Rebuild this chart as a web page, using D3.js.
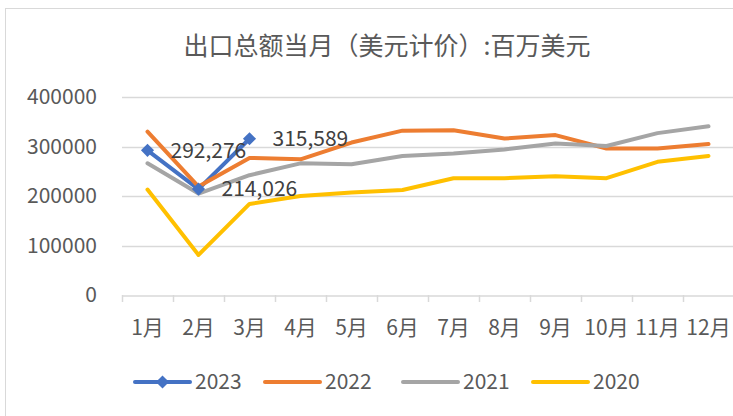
<!DOCTYPE html>
<html>
<head>
<meta charset="utf-8">
<script src="https://cdn.jsdelivr.net/npm/d3@7"></script>
<style>
  body { margin: 0; background: #fff; }
  text { font-family: "Noto Sans CJK SC", "Noto Sans", sans-serif; }
</style>
</head>
<body>
<div id="chart"></div>
<script>
var months = ["1月", "2月", "3月", "4月", "5月", "6月", "7月", "8月", "9月", "10月", "11月", "12月"];
var yTicks = [0, 100000, 200000, 300000, 400000];

var s2023 = [292276, 214026, 315589];
var s2022 = [330000, 219000, 277000, 274000, 308000, 332000, 333000, 316000, 323000, 296000, 296000, 305000];
var s2021 = [266000, 205000, 242000, 266000, 264000, 281000, 286000, 294000, 306000, 301000, 327000, 341000];
var s2020 = [213000, 81000, 184000, 200000, 207000, 212000, 236000, 236000, 240000, 236000, 269000, 281000];

var seriesNames = ["2023", "2022", "2021", "2020"];
var seriesColors = ["#4472C4", "#ED7D31", "#A5A5A5", "#FFC000"];

var size = {
  width: 733,
  height: 416,
  left: 122,
  right: 734,
  top: 97,
  bottom: 295
};

var svg = d3.select("#chart")
  .append("svg")
  .attr("width", size.width)
  .attr("height", size.height);

// outer chart frame
svg.append("rect")
  .attr("x", 5.5)
  .attr("y", 8.5)
  .attr("width", 740)
  .attr("height", 420)
  .attr("fill", "#fff")
  .attr("stroke", "#D9D9D9");

var xScale = d3.scaleBand().domain(months).range([size.left, size.right]);
var yScale = d3.scaleLinear().domain([0, 400000]).range([size.bottom, size.top]);

var xPoint = function(d, i){
  return xScale(months[i]) + xScale.bandwidth() / 2;
};

// title
svg.append("text")
  .attr("x", 387)
  .attr("y", 55)
  .attr("text-anchor", "middle")
  .attr("font-size", 25)
  .attr("fill", "#595959")
  .text("出口总额当月（美元计价）:百万美元");

// grid
svg.append("g")
  .selectAll("line")
  .data(yTicks.slice(1))
  .enter()
  .append("line")
  .attr("x1", size.left)
  .attr("x2", size.right)
  .attr("y1", function(d){ return Math.round(yScale(d)) + 0.5; })
  .attr("y2", function(d){ return Math.round(yScale(d)) + 0.5; })
  .attr("stroke", "#D9D9D9")
  .attr("stroke-width", 1.5);

// y axis labels
var yAxis = d3.axisLeft(yScale).tickValues(yTicks).tickSize(0).tickPadding(25).tickFormat(d3.format("d"));
var gy = svg.append("g")
  .attr("transform", "translate(" + size.left + ",0)")
  .call(yAxis);
gy.select(".domain").remove();
gy.selectAll("text")
  .attr("font-family", "\"Noto Sans CJK SC\", sans-serif")
  .attr("font-size", 21)
  .attr("fill", "#595959");

// x axis
var xAxis = d3.axisBottom(xScale).tickSize(0);
var gx = svg.append("g")
  .attr("transform", "translate(0," + (Math.round(size.bottom) + 0.5) + ")")
  .call(xAxis);
gx.select(".domain").attr("stroke", "#D9D9D9").attr("stroke-width", 1.5);
gx.selectAll("text")
  .attr("y", 32)
  .attr("dy", "0.35em")
  .attr("font-family", "\"Noto Sans CJK SC\", sans-serif")
  .attr("font-size", 21)
  .attr("fill", "#595959");

// category boundary ticks
var bounds = months.map(function(m){ return xScale(m); }).concat([size.right]);
svg.append("g")
  .selectAll("line")
  .data(bounds)
  .enter()
  .append("line")
  .attr("x1", function(d){ return Math.round(d) + 0.5; })
  .attr("x2", function(d){ return Math.round(d) + 0.5; })
  .attr("y1", size.bottom)
  .attr("y2", size.bottom + 7)
  .attr("stroke", "#D9D9D9")
  .attr("stroke-width", 1.5);

// lines
var line = d3.line()
  .x(xPoint)
  .y(function(d){ return yScale(d); });

var allSeries = [s2023, s2022, s2021, s2020];
allSeries.forEach(function(data, k){
  svg.append("path")
    .datum(data)
    .attr("d", line)
    .attr("fill", "none")
    .attr("stroke", seriesColors[k])
    .attr("stroke-width", 4)
    .attr("stroke-linejoin", "round")
    .attr("stroke-linecap", "round");
});

// 2023 markers
var diamond = d3.symbol().type(d3.symbolDiamond2).size(110);
svg.append("g")
  .selectAll("path")
  .data(s2023)
  .enter()
  .append("path")
  .attr("d", diamond)
  .attr("transform", function(d, i){ return "translate(" + xPoint(d, i) + "," + yScale(d) + ")"; })
  .attr("fill", seriesColors[0]);

// data labels
svg.append("g")
  .selectAll("text")
  .data(s2023)
  .enter()
  .append("text")
  .attr("x", function(d, i){ return xPoint(d, i) + 23; })
  .attr("y", function(d){ return yScale(d); })
  .attr("dy", "0.35em")
  .attr("font-size", 21)
  .attr("fill", "#404040")
  .text(d3.format(","));

// legend
var legendX = [135, 265, 403, 533];
var legend = svg.append("g")
  .selectAll("g")
  .data(seriesNames)
  .enter()
  .append("g")
  .attr("transform", function(d, i){ return "translate(" + legendX[i] + ",382)"; });

legend.append("line")
  .attr("x1", 0)
  .attr("x2", 55)
  .attr("y1", 0)
  .attr("y2", 0)
  .attr("stroke", function(d, i){ return seriesColors[i]; })
  .attr("stroke-width", 4)
  .attr("stroke-linecap", "round");

legend.filter(function(d, i){ return i === 0; })
  .append("path")
  .attr("d", diamond)
  .attr("transform", "translate(27.5,0)")
  .attr("fill", seriesColors[0]);

legend.append("text")
  .attr("x", 60)
  .attr("y", 0)
  .attr("dy", "0.35em")
  .attr("font-size", 21)
  .attr("fill", "#595959")
  .text(function(d){ return d; });
</script>
</body>
</html>
